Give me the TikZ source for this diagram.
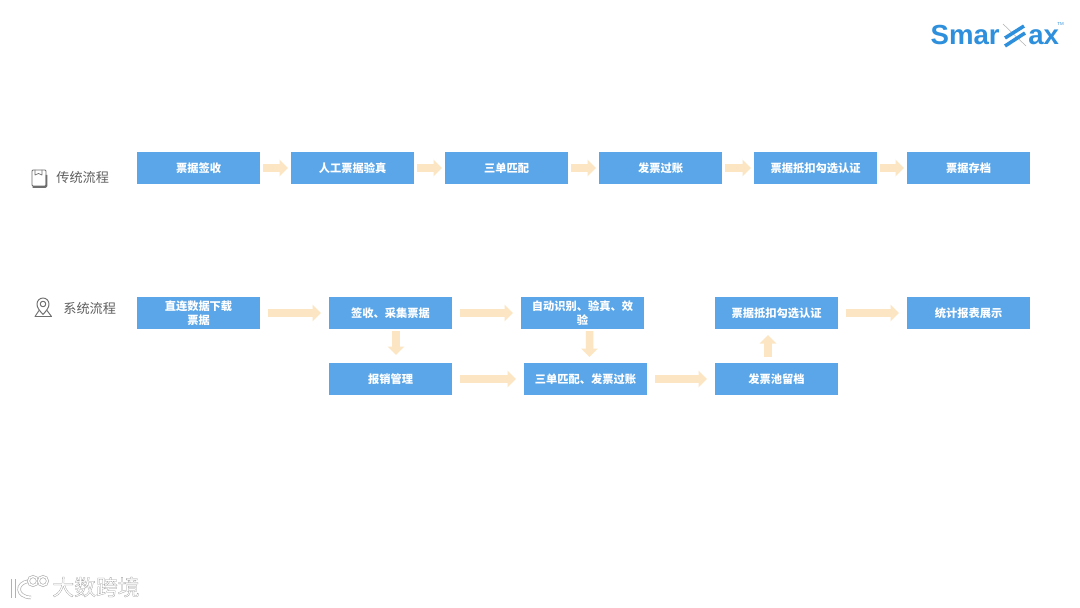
\documentclass[tikz,border=0pt]{standalone}
\usepackage{fontspec}
\setmainfont{Noto Sans CJK SC}
\newfontfamily\logofont{Liberation Sans}
\newfontfamily\wmfont[FakeBold=1.2]{Noto Sans CJK SC}
\usetikzlibrary{arrows.meta, positioning}
\definecolor{boxblue}{RGB}{90, 166, 232}
\definecolor{arrowcream}{RGB}{252, 229, 194}
\definecolor{logoblue}{RGB}{46, 144, 220}
\definecolor{labelgray}{RGB}{95, 95, 95}
\definecolor{icongray}{RGB}{110, 110, 110}

\begin{document}
\begin{tikzpicture}[
  node distance=0.62cm and 0.62cm,
  box/.style={fill=boxblue, text=white, minimum height=0.64cm, minimum width=2.46cm, inner sep=0pt, outer sep=0pt, align=center, font=\fontsize{6.4}{8}\selectfont\bfseries},
  lane/.style={text=labelgray, inner sep=0pt, font=\fontsize{7.5}{9}\selectfont},
  arr/.style={-{Triangle[length=0.17cm, width=0.32cm]}, line width=0.15cm, draw=arrowcream},
  near/.style={arr, shorten <=0.06cm, shorten >=0.06cm},
  far/.style={arr, shorten <=0.16cm, shorten >=0.16cm},
  icon/.style={draw=icongray, line width=0.55pt, line join=round},
  zstroke/.style={line width=2pt, draw=logoblue},
  wm/.style={double=white, draw=black!30, line width=0.4pt}]

  \fill[white] (0,0) rectangle (21.6,-12.16);

  % traditional row
  \node[box] (sign) at (3.97,-3.36) {票据签收};
  \node[box, right=of sign] (verify) {人工票据验真};
  \node[box, right=of verify] (match) {三单匹配};
  \node[box, right=of match] (post) {发票过账};
  \node[box, right=0.64cm of post] (deduct) {票据抵扣勾选认证};
  \node[box, right=0.6cm of deduct] (archive) {票据存档};

  \draw[near] (sign) -- (verify);
  \draw[near] (verify) -- (match);
  \draw[near] (match) -- (post);
  \draw[near] (post) -- (deduct);
  \draw[near] (deduct) -- (archive);

  % system row
  \node[box] (fetch) at (3.97,-6.26) {直连数据下载\\票据};
  \node[box, right=1.38cm of fetch] (collect) {签收、采集票据};
  \node[box, right=1.38cm of collect] (recog) {自动识别、验真、效\\验};
  \node[box, right=1.42cm of recog] (sysdeduct) {票据抵扣勾选认证};
  \node[box, right=1.38cm of sysdeduct] (report) {统计报表展示};

  \node[box, below=0.68cm of collect] (expense) {报销管理};
  \node[box, below=0.68cm of recog, xshift=0.06cm] (sysmatch) {三单匹配、发票过账};
  \node[box, below=0.68cm of sysdeduct] (pool) {发票池留档};

  \draw[far] (fetch) -- (collect);
  \draw[far] (collect) -- (recog);
  \draw[far] (sysdeduct) -- (report);
  \draw[far] (expense) -- (sysmatch);
  \draw[far] (sysmatch) -- (pool);
  \draw[arr, shorten <=0.04cm, shorten >=0.16cm] ([xshift=0.11cm]collect.south) -- ([xshift=0.11cm]expense.north);
  \draw[arr, shorten <=0.04cm, shorten >=0.12cm] ([xshift=0.14cm]recog.south) -- ([xshift=0.08cm]sysmatch.north);
  \draw[arr, shorten <=0.12cm, shorten >=0.12cm] ([xshift=-0.17cm]pool.north) -- ([xshift=-0.17cm]sysdeduct.south);

  % lane labels
  \node[lane, anchor=west] (oldlane) at (1.12,-3.54) {传统流程};
  \node[lane, anchor=west] (newlane) at (1.26,-6.16) {系统流程};

  % lane icons
  \draw[icon, rounded corners=0.6pt] (0.64,-3.4) rectangle (0.92,-3.72);
  \draw[icon, line width=0.9pt, rounded corners=0.6pt] (0.65,-3.74) -- (0.93,-3.74) -- (0.93,-3.5);
  \draw[icon, line width=0.4pt] (0.7,-3.4) -- (0.7,-3.5) -- (0.77,-3.47) -- (0.84,-3.5) -- (0.84,-3.4);
  \draw[icon] (0.86,-6.29) .. controls (0.78,-6.2) and (0.74,-6.15) .. (0.74,-6.08) arc (180:0:0.12) .. controls (0.98,-6.15) and (0.94,-6.2) .. (0.86,-6.29);
  \draw[icon] (0.86,-6.08) circle (0.055);
  \draw[icon] (0.78,-6.21) -- (0.7,-6.33) -- (1.03,-6.33) -- (0.94,-6.21);

  % logo
  \node[anchor=base east, inner sep=0pt, text=logoblue, font=\fontsize{15.7}{16}\logofont\bfseries] (logoleft) at (20,-0.9) {Smar};
  \node[anchor=base west, inner sep=0pt, text=logoblue, font=\fontsize{15.7}{16}\logofont\bfseries] (logoright) at (20.56,-0.9) {ax};
  \node[anchor=west, inner sep=0pt, text=logoblue, font=\fontsize{2.5}{3}\logofont] (logotm) at (21.14,-0.47) {TM};
  \draw[black!30, line width=0.3pt] (20.06,-0.48) -- (20.52,-0.92);
  \draw[zstroke] (20.1,-0.76) -- (20.48,-0.52);
  \draw[zstroke] (20.1,-0.92) -- (20.5,-0.66);

  % watermark
  \draw[wm, double distance=1.6pt] (0.27,-11.58) -- (0.27,-11.96);
  \draw[wm, double distance=1.2pt] (0.58,-11.62) .. controls (0.3,-11.66) and (0.32,-11.94) .. (0.62,-11.95);
  \draw[wm, double distance=0.8pt] (0.66,-11.62) circle (0.09);
  \draw[wm, double distance=0.8pt] (0.86,-11.62) circle (0.09);
  \node[anchor=west, inner sep=0pt, font=\fontsize{12.4}{14}\wmfont] (wmark) at (1.04,-11.74) {\special{pdf:bcolor [1 1 1] [0.62 0.62 0.62]}大数跨境\special{pdf:ecolor}};
\end{tikzpicture}
\end{document}
